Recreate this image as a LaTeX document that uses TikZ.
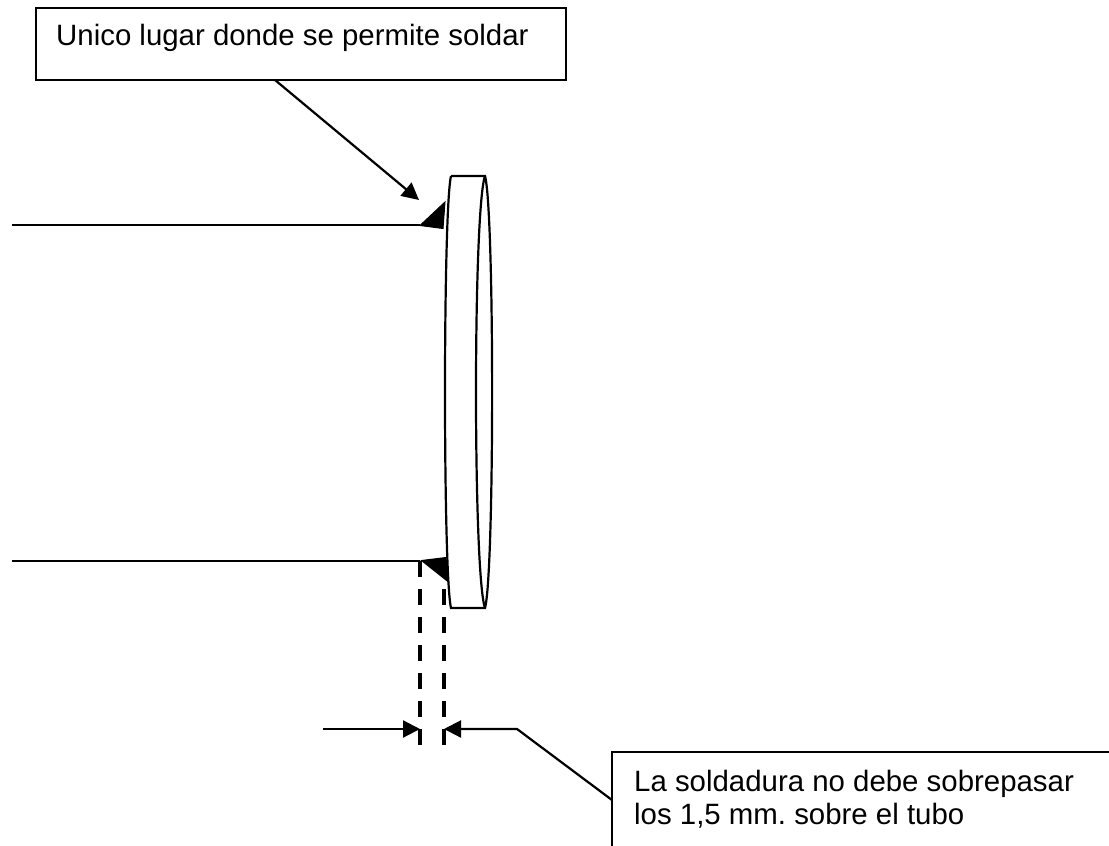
\documentclass[tikz,border=0pt]{standalone}
\usepackage{fontspec}
\setmainfont{Liberation Sans}
\usetikzlibrary{arrows.meta, calc, positioning}
\tikzset{
  note/.style = {font=\fontsize{29.4}{33}\selectfont\frenchspacing, align=left, anchor=north west, inner sep=0pt},
  boxline/.style = {line width=1.8pt},
  line/.style = {line width=2.2pt},
  leader/.style = {line width=2.2pt, -{Triangle[length=17pt, width=17pt]}},
  limit/.style = {line width=3.8pt, dash pattern=on 16pt off 12pt},
  weld/.style = {fill=black, draw=black, line width=1pt}
}
\begin{document}
\begin{tikzpicture}[x=1pt, y=-1pt]
\useasboundingbox (0,0) rectangle (1109,846);
% boxes
\coordinate (boxa) at (36,8);
\coordinate (boxb) at (566,80);
\draw [boxline] (boxa) rectangle (boxb);
\node [note] (top) at (56,24) {Unico lugar donde se permite soldar};
\coordinate (lowa) at (612,846);
\coordinate (lowb) at (612,752);
\coordinate (lowc) at (1109,752);
\draw [boxline] (lowa) -- (lowb) -- (lowc);
\node [note] (low) at (634,770) {La soldadura no debe sobrepasar\\los 1,5 mm. sobre el tubo};
% flange
\coordinate (ftl) at (451,176);
\coordinate (ftr) at (485,176);
\coordinate (fbl) at (451,608);
\coordinate (fbr) at (485,608);
\draw [line] (ftl) -- (ftr) .. controls (494.5,210) and (494.5,574) .. (fbr) -- (fbl)
  .. controls (443,574) and (443,210) .. (ftl);
\draw [line] (ftr) .. controls (473,210) and (473,574) .. (fbr);
% tube
\coordinate (tua) at (12,225);
\coordinate (tub) at (420,225);
\coordinate (tla) at (12,561);
\coordinate (tlb) at (420,561);
\draw [line] (tua) -- (tub);
\draw [line] (tla) -- (tlb);
% welds
\draw [weld] (420,225.5) -- (445,202) -- (443,228.5) -- cycle;
\draw [weld] (421.5,560.5) -- (446,557.5) -- (448.5,582) -- cycle;
% limits
\coordinate (la) at (420,561);
\coordinate (lb) at (420,745);
\coordinate (ra) at (444,589);
\coordinate (rb) at (444,745);
\draw [limit] (la) -- (lb);
\draw [limit] (ra) -- (rb);
% arrows
\coordinate (topfoot) at (275,80);
\coordinate (toptip) at (419,200);
\coordinate (lefta) at (323,729);
\coordinate (leftb) at (420,729);
\coordinate (righta) at (612,800);
\coordinate (rightb) at (517,729);
\coordinate (rightc) at (444,729);
\draw [leader] (topfoot) -- (toptip);
\draw [leader] (lefta) -- (leftb);
\draw [leader] (righta) -- (rightb) -- (rightc);
\end{tikzpicture}
\end{document}
